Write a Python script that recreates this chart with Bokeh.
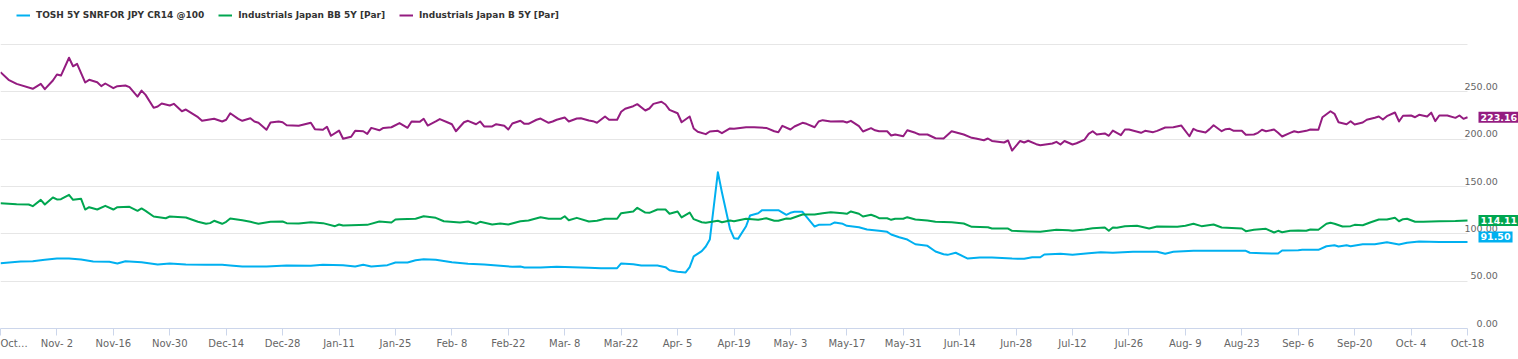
import pandas as pd
from bokeh.plotting import figure
from bokeh.models import (Range1d, FixedTicker, Legend, LegendItem, Label, ColumnDataSource,
                          BoxAnnotation)
from bokeh.embed import file_html
from bokeh.resources import INLINE

series_names = ["TOSH 5Y SNRFOR JPY CR14 @100", "Industrials Japan BB 5Y [Par]", "Industrials Japan B 5Y [Par]"]
series_colors = ["#00B0F0", "#00A650", "#941C80"]

tosh_dates = ["2020-10-19","2020-10-24","2020-10-27","2020-10-30","2020-11-02","2020-11-05","2020-11-08","2020-11-11",
              "2020-11-15","2020-11-17","2020-11-19","2020-11-23","2020-11-27","2020-11-30","2020-12-04","2020-12-09",
              "2020-12-13","2020-12-15","2020-12-18","2020-12-24","2020-12-29","2021-01-04","2021-01-07","2021-01-12",
              "2021-01-15","2021-01-17","2021-01-19","2021-01-23","2021-01-25","2021-01-28","2021-01-30","2021-02-01",
              "2021-02-04","2021-02-08","2021-02-12","2021-02-16","2021-02-20","2021-02-23","2021-02-25","2021-02-26",
              "2021-03-02","2021-03-06","2021-03-10","2021-03-14","2021-03-17","2021-03-21","2021-03-22","2021-03-25",
              "2021-03-27","2021-03-31","2021-04-02","2021-04-03","2021-04-05","2021-04-07","2021-04-08","2021-04-09",
              "2021-04-11","2021-04-12","2021-04-13","2021-04-15","2021-04-16","2021-04-18","2021-04-19","2021-04-20",
              "2021-04-22","2021-04-23","2021-04-25","2021-04-26","2021-04-30","2021-05-02","2021-05-03","2021-05-04",
              "2021-05-06","2021-05-07","2021-05-09","2021-05-10","2021-05-13","2021-05-14","2021-05-16","2021-05-17",
              "2021-05-20","2021-05-22","2021-05-25","2021-05-27","2021-05-28","2021-05-30","2021-06-01","2021-06-03",
              "2021-06-06","2021-06-08","2021-06-10","2021-06-11","2021-06-13","2021-06-16","2021-06-19","2021-06-22",
              "2021-06-27","2021-06-30","2021-07-02","2021-07-04","2021-07-05","2021-07-09","2021-07-12","2021-07-16",
              "2021-07-19","2021-07-22","2021-07-27","2021-08-02","2021-08-04","2021-08-06","2021-08-11","2021-08-18",
              "2021-08-24","2021-08-25","2021-08-28","2021-09-01","2021-09-02","2021-09-06","2021-09-07","2021-09-11",
              "2021-09-13","2021-09-15","2021-09-16","2021-09-18","2021-09-19","2021-09-22","2021-09-25","2021-09-28",
              "2021-10-01","2021-10-03","2021-10-06","2021-10-11","2021-10-18"]
tosh_values = [69.0, 70.8, 71.1, 72.6, 73.9, 73.9, 72.9, 70.8,
               70.4, 68.7, 71.1, 70.0, 67.6, 68.7, 67.6, 67.3,
               67.3, 66.5, 65.5, 65.5, 66.5, 66.2, 67.3, 66.9,
               65.5, 67.3, 65.5, 66.9, 69.7, 69.7, 72.1, 73.2,
               72.6, 70.0, 68.3, 67.6, 66.2, 65.2, 65.5, 64.4,
               64.4, 65.2, 64.8, 64.1, 63.7, 63.7, 68.7, 67.9,
               66.5, 66.5, 64.8, 61.6, 59.9, 59.2, 64.8, 76.1,
               81.7, 86.6, 94.0, 165.1, 144.0, 105.3, 95.4, 94.7,
               108.1, 119.4, 121.8, 125.0, 125.0, 120.1, 122.2, 123.3,
               123.3, 118.0, 107.7, 109.5, 109.9, 112.0, 110.6, 108.5,
               107.0, 104.6, 103.2, 102.1, 99.3, 96.4, 94.0, 89.0,
               87.3, 81.3, 78.5, 77.8, 80.0, 73.9, 75.0, 75.0,
               73.9, 73.6, 75.3, 75.3, 78.2, 78.9, 77.8, 79.5,
               80.6, 80.0, 81.0, 81.0, 78.9, 81.0, 82.1, 82.1,
               82.1, 80.0, 79.5, 79.2, 82.4, 82.7, 83.1, 83.1,
               86.9, 88.0, 86.6, 88.0, 86.9, 89.0, 89.0, 91.2,
               88.7, 90.5, 91.9, 91.5, 91.50]

bb_dates = ["2020-10-19","2020-10-23","2020-10-26","2020-10-27","2020-10-29","2020-10-30","2020-11-01","2020-11-02",
            "2020-11-03","2020-11-05","2020-11-06","2020-11-08","2020-11-09","2020-11-10","2020-11-12","2020-11-14",
            "2020-11-16","2020-11-17","2020-11-20","2020-11-22","2020-11-23","2020-11-24","2020-11-26","2020-11-29",
            "2020-11-30","2020-12-04","2020-12-07","2020-12-09","2020-12-10","2020-12-11","2020-12-13","2020-12-14",
            "2020-12-15","2020-12-18","2020-12-20","2020-12-22","2020-12-25","2020-12-28","2020-12-29","2021-01-01",
            "2021-01-04","2021-01-07","2021-01-10","2021-01-11","2021-01-12","2021-01-18","2021-01-21","2021-01-24",
            "2021-01-25","2021-01-26","2021-01-30","2021-02-01","2021-02-04","2021-02-06","2021-02-10","2021-02-12",
            "2021-02-14","2021-02-15","2021-02-18","2021-02-20","2021-02-22","2021-02-25","2021-02-27","2021-03-02",
            "2021-03-04","2021-03-07","2021-03-08","2021-03-09","2021-03-11","2021-03-14","2021-03-16","2021-03-18",
            "2021-03-21","2021-03-22","2021-03-25","2021-03-26","2021-03-28","2021-03-29","2021-03-31","2021-04-02",
            "2021-04-03","2021-04-05","2021-04-06","2021-04-08","2021-04-09","2021-04-11","2021-04-12","2021-04-15",
            "2021-04-16","2021-04-18","2021-04-19","2021-04-22","2021-04-25","2021-04-27","2021-04-29","2021-04-30",
            "2021-05-02","2021-05-03","2021-05-06","2021-05-09","2021-05-11","2021-05-13","2021-05-16","2021-05-17",
            "2021-05-18","2021-05-20","2021-05-21","2021-05-23","2021-05-24","2021-05-25","2021-05-27","2021-05-28",
            "2021-05-29","2021-05-31","2021-06-01","2021-06-03","2021-06-06","2021-06-08","2021-06-12","2021-06-15",
            "2021-06-17","2021-06-21","2021-06-22","2021-06-26","2021-06-27","2021-07-01","2021-07-04","2021-07-08",
            "2021-07-11","2021-07-12","2021-07-15","2021-07-17","2021-07-20","2021-07-21","2021-07-22","2021-07-23",
            "2021-07-25","2021-07-28","2021-07-31","2021-08-02","2021-08-07","2021-08-09","2021-08-11","2021-08-13",
            "2021-08-16","2021-08-18","2021-08-23","2021-08-24","2021-08-26","2021-08-29","2021-08-31","2021-09-01",
            "2021-09-02","2021-09-04","2021-09-06","2021-09-08","2021-09-09","2021-09-11","2021-09-13","2021-09-14",
            "2021-09-15","2021-09-17","2021-09-19","2021-09-20","2021-09-22","2021-09-24","2021-09-26","2021-09-28",
            "2021-09-30","2021-10-01","2021-10-02","2021-10-03","2021-10-05","2021-10-07","2021-10-11","2021-10-15",
            "2021-10-18"]
bb_values = [132.4, 131.3, 131.0, 129.2, 135.9, 131.0, 138.4, 136.3,
             136.6, 141.2, 135.9, 137.0, 125.7, 128.1, 125.7, 129.6,
             125.7, 128.1, 128.5, 124.3, 126.8, 124.3, 118.3, 116.5,
             118.3, 117.3, 112.7, 110.6, 111.3, 113.8, 110.6, 112.7,
             116.2, 114.4, 112.7, 110.6, 112.7, 113.0, 111.3, 110.9,
             112.3, 111.3, 108.1, 109.9, 108.8, 109.5, 113.0, 112.0,
             115.1, 115.5, 115.9, 118.6, 116.9, 113.3, 112.0, 113.0,
             110.6, 112.7, 109.9, 110.9, 109.9, 113.3, 114.1, 117.6,
             115.9, 115.9, 118.6, 114.4, 116.9, 113.0, 113.8, 115.9,
             115.9, 121.8, 123.6, 127.5, 122.5, 122.2, 125.7, 125.7,
             121.2, 123.6, 117.3, 122.5, 115.5, 112.3, 111.7, 113.8,
             112.3, 114.1, 113.3, 115.9, 114.8, 116.5, 113.8, 113.8,
             116.2, 115.9, 120.4, 120.4, 121.8, 122.9, 121.8, 121.2,
             123.6, 121.2, 118.3, 120.1, 118.6, 116.5, 116.5, 114.8,
             115.9, 115.9, 117.6, 115.1, 114.1, 112.7, 112.3, 110.9,
             107.4, 107.0, 105.6, 105.6, 103.2, 102.5, 102.1, 104.3,
             103.8, 103.2, 104.6, 105.9, 106.7, 103.2, 106.7, 106.4,
             108.1, 108.5, 105.6, 107.7, 107.4, 108.5, 110.6, 108.1,
             109.9, 106.7, 105.6, 102.8, 104.3, 105.3, 101.4, 103.2,
             101.7, 103.2, 103.5, 103.2, 104.6, 104.3, 110.6, 111.7,
             110.6, 107.7, 108.1, 109.5, 109.1, 112.3, 115.1, 115.1,
             116.9, 113.3, 115.5, 115.9, 112.7, 112.7, 113.2, 113.5,
             114.11]

b_dates = ["2020-10-19","2020-10-21","2020-10-23","2020-10-27","2020-10-29","2020-10-30","2020-11-01","2020-11-02",
           "2020-11-03","2020-11-05","2020-11-06","2020-11-07","2020-11-09","2020-11-10","2020-11-12","2020-11-13",
           "2020-11-14","2020-11-16","2020-11-17","2020-11-19","2020-11-20","2020-11-22","2020-11-23","2020-11-24",
           "2020-11-26","2020-11-27","2020-11-28","2020-11-30","2020-12-01","2020-12-03","2020-12-04","2020-12-07",
           "2020-12-08","2020-12-11","2020-12-13","2020-12-14","2020-12-15","2020-12-17","2020-12-18","2020-12-20",
           "2020-12-21","2020-12-22","2020-12-24","2020-12-25","2020-12-27","2020-12-28","2020-12-29","2021-01-01",
           "2021-01-04","2021-01-05","2021-01-07","2021-01-08","2021-01-09","2021-01-11","2021-01-12","2021-01-14",
           "2021-01-15","2021-01-17","2021-01-18","2021-01-19","2021-01-21","2021-01-22","2021-01-24","2021-01-26",
           "2021-01-28","2021-01-29","2021-01-31","2021-02-01","2021-02-02","2021-02-04","2021-02-05","2021-02-07",
           "2021-02-08","2021-02-09","2021-02-11","2021-02-12","2021-02-14","2021-02-15","2021-02-16","2021-02-18",
           "2021-02-19","2021-02-21","2021-02-22","2021-02-23","2021-02-25","2021-02-26","2021-02-27","2021-03-01",
           "2021-03-02","2021-03-04","2021-03-05","2021-03-06","2021-03-08","2021-03-09","2021-03-11","2021-03-12",
           "2021-03-14","2021-03-15","2021-03-16","2021-03-18","2021-03-19","2021-03-21","2021-03-22","2021-03-23",
           "2021-03-25","2021-03-26","2021-03-28","2021-03-29","2021-03-30","2021-04-01","2021-04-02","2021-04-03",
           "2021-04-05","2021-04-06","2021-04-08","2021-04-09","2021-04-10","2021-04-12","2021-04-13","2021-04-15",
           "2021-04-16","2021-04-18","2021-04-19","2021-04-22","2021-04-24","2021-04-27","2021-04-29","2021-04-30",
           "2021-05-01","2021-05-03","2021-05-04","2021-05-06","2021-05-07","2021-05-09","2021-05-10","2021-05-11",
           "2021-05-13","2021-05-16","2021-05-17","2021-05-18","2021-05-20","2021-05-21","2021-05-23","2021-05-24",
           "2021-05-25","2021-05-27","2021-05-28","2021-05-29","2021-05-31","2021-06-01","2021-06-03","2021-06-04",
           "2021-06-06","2021-06-08","2021-06-10","2021-06-12","2021-06-15","2021-06-17","2021-06-18","2021-06-20",
           "2021-06-21","2021-06-22","2021-06-25","2021-06-26","2021-06-27","2021-06-29","2021-06-30","2021-07-01",
           "2021-07-03","2021-07-04","2021-07-07","2021-07-08","2021-07-09","2021-07-10","2021-07-12","2021-07-13",
           "2021-07-15","2021-07-16","2021-07-17","2021-07-18","2021-07-20","2021-07-21","2021-07-22","2021-07-24",
           "2021-07-25","2021-07-26","2021-07-29","2021-07-30","2021-08-01","2021-08-02","2021-08-04","2021-08-06",
           "2021-08-08","2021-08-10","2021-08-11","2021-08-12","2021-08-14","2021-08-15","2021-08-16","2021-08-18",
           "2021-08-19","2021-08-20","2021-08-21","2021-08-23","2021-08-24","2021-08-26","2021-08-27","2021-08-28",
           "2021-08-29","2021-08-31","2021-09-01","2021-09-02","2021-09-04","2021-09-05","2021-09-06","2021-09-08",
           "2021-09-09","2021-09-11","2021-09-12","2021-09-14","2021-09-15","2021-09-16","2021-09-18","2021-09-19",
           "2021-09-20","2021-09-22","2021-09-23","2021-09-25","2021-09-26","2021-09-27","2021-09-28","2021-09-30",
           "2021-10-01","2021-10-02","2021-10-04","2021-10-05","2021-10-06","2021-10-08","2021-10-09","2021-10-10",
           "2021-10-11","2021-10-13","2021-10-15","2021-10-16","2021-10-17","2021-10-18"]
b_values = [270.8, 262.7, 258.4, 253.2, 258.4, 252.8, 262.0, 268.3,
            267.2, 286.0, 277.0, 279.6, 259.9, 262.7, 260.2, 256.0,
            258.8, 253.9, 256.0, 256.7, 254.9, 245.0, 251.3, 246.8,
            233.1, 234.5, 237.7, 235.6, 237.3, 229.5, 231.3, 223.2,
            219.4, 221.5, 218.7, 220.5, 227.4, 221.5, 219.4, 222.1,
            218.7, 217.3, 209.9, 217.6, 218.7, 217.9, 214.7, 214.1,
            217.3, 210.6, 209.9, 213.1, 203.6, 209.1, 200.4, 202.5,
            208.8, 208.4, 205.6, 211.9, 209.4, 211.9, 212.6, 217.0,
            212.0, 218.7, 218.3, 221.5, 214.4, 218.7, 221.2, 217.6,
            215.8, 208.4, 217.9, 219.4, 215.8, 218.7, 213.4, 213.4,
            215.8, 214.1, 210.2, 216.6, 219.4, 216.2, 216.2, 220.5,
            221.8, 217.3, 218.7, 220.5, 222.9, 218.7, 221.8, 222.1,
            219.7, 219.0, 217.3, 224.0, 220.5, 220.5, 228.9, 232.1,
            234.8, 237.0, 230.3, 232.4, 237.3, 239.5, 236.6, 231.0,
            227.4, 217.9, 224.0, 211.3, 207.8, 205.3, 208.1, 208.8,
            206.3, 211.3, 210.9, 212.6, 212.6, 211.9, 208.4, 207.4,
            214.1, 210.2, 213.4, 217.3, 216.2, 212.6, 218.7, 220.1,
            218.7, 219.0, 217.6, 219.4, 213.7, 208.1, 211.6, 209.4,
            208.4, 208.4, 203.9, 204.9, 203.1, 209.4, 206.7, 204.9,
            204.9, 201.0, 200.7, 208.4, 204.9, 201.4, 200.7, 198.9,
            200.7, 198.1, 196.5, 198.6, 188.0, 198.1, 196.5, 198.3,
            194.7, 193.6, 195.4, 197.2, 194.4, 198.1, 194.4, 195.7,
            199.6, 205.6, 208.4, 204.9, 206.0, 203.6, 209.1, 204.2,
            210.2, 210.2, 206.7, 208.8, 207.4, 208.8, 212.3, 212.6,
            214.4, 203.1, 210.9, 208.8, 207.0, 210.6, 214.7, 208.4,
            210.6, 210.9, 208.8, 208.8, 204.6, 204.9, 206.7, 209.9,
            208.4, 210.2, 206.7, 202.8, 206.7, 208.4, 207.4, 208.8,
            210.2, 209.9, 223.2, 229.5, 226.8, 217.9, 215.8, 219.0,
            215.5, 217.6, 220.5, 222.6, 224.0, 220.8, 224.3, 228.2,
            218.7, 224.7, 225.0, 223.2, 225.7, 224.0, 228.0, 219.0,
            225.0, 225.0, 222.5, 225.0, 221.5, 223.16]

x_tick_dates = ["2020-10-19","2020-11-02","2020-11-16","2020-11-30","2020-12-14","2020-12-28","2021-01-11",
                "2021-01-25","2021-02-08","2021-02-22","2021-03-08","2021-03-22","2021-04-05","2021-04-19",
                "2021-05-03","2021-05-17","2021-05-31","2021-06-14","2021-06-28","2021-07-12","2021-07-26",
                "2021-08-09","2021-08-23","2021-09-06","2021-09-20","2021-10-04","2021-10-18"]
x_tick_labels = ["Oct\u2026","Nov- 2","Nov-16","Nov-30","Dec-14","Dec-28","Jan-11",
                 "Jan-25","Feb- 8","Feb-22","Mar- 8","Mar-22","Apr- 5","Apr-19",
                 "May- 3","May-17","May-31","Jun-14","Jun-28","Jul-12","Jul-26",
                 "Aug- 9","Aug-23","Sep- 6","Sep-20","Oct- 4","Oct-18"]
y_ticks = [0, 50, 100, 150, 200, 250, 300]
y_tick_labels = ["0.00", "50.00", "100.00", "150.00", "200.00", "250.00", ""]

FONT = "DejaVu Sans"
FIG = "\u2007"  # figure space, same width as a digit

W, H = 1518, 359
PLOT_RIGHT = 1467   # x pixel where the time axis ends; the strip to its right holds labels and flags
PLOT_TOP = 44       # y pixel of the top grid line; the band above it holds the legend
PLOT_BOTTOM = 328   # y pixel of the time axis

x0 = pd.Timestamp(x_tick_dates[0])
x1 = pd.Timestamp(x_tick_dates[-1])
x_end = x1 + (x1 - x0) * (W - PLOT_RIGHT) / PLOT_RIGHT
y_top = y_ticks[-1] * PLOT_BOTTOM / (PLOT_BOTTOM - PLOT_TOP)

p = figure(width=W, height=H, x_axis_type="datetime", y_axis_location="right",
           output_backend="svg", toolbar_location=None, title=None,
           x_range=Range1d(x0, x_end), y_range=Range1d(y_ticks[0], y_top))
p.min_border_left = 0
p.min_border_right = 0
p.min_border_top = 0
p.min_border_bottom = H - PLOT_BOTTOM
p.outline_line_color = None
p.background_fill_color = "white"
p.border_fill_color = "white"

# grid
p.xgrid.grid_line_color = None
p.ygrid.ticker = FixedTicker(ticks=y_ticks)
p.ygrid.grid_line_color = "#e6e6e6"
p.ygrid.grid_line_width = 1
# keep the grid out of the label strip
p.add_layout(BoxAnnotation(left=x1, fill_color="white", fill_alpha=1, line_color=None, level="underlay"))

renderers = []
for dates, vals, col in [(tosh_dates, tosh_values, series_colors[0]),
                         (bb_dates, bb_values, series_colors[1]),
                         (b_dates, b_values, series_colors[2])]:
    src = ColumnDataSource(dict(x=pd.to_datetime(dates), y=vals))
    r = p.line("x", "y", source=src, line_color=col, line_width=2, line_join="round")
    renderers.append(r)

# x axis
tick_ms = [pd.Timestamp(d).value / 1e6 for d in x_tick_dates]
xa = p.xaxis[0]
xa.ticker = FixedTicker(ticks=tick_ms)
xa.major_label_overrides = {t: lab for t, lab in zip(tick_ms, x_tick_labels)}
xa.bounds = (x0, x1)
xa.axis_line_color = "#ccd6eb"
xa.major_tick_line_color = "#ccd6eb"
xa.major_tick_out = 7
xa.major_tick_in = 0
xa.minor_tick_line_color = None
xa.major_label_text_font = FONT
xa.major_label_text_font_size = "10px"
xa.major_label_text_color = "#666666"
xa.major_label_standoff = 2

# y axis: labels pulled back into the strip right of the time axis, right-aligned with
# figure spaces, sitting just above their grid lines
label_lift = 5.5
pad_right = 3
ya = p.yaxis[0]
shown = [(t, lab) for t, lab in zip(y_ticks, y_tick_labels) if lab]
width_max = max(len(lab) for _, lab in shown)
ya.ticker = FixedTicker(ticks=[t + label_lift for t, _ in shown])
ya.major_label_overrides = {t + label_lift: FIG * (width_max - len(lab)) + lab + FIG * pad_right
                            for t, lab in shown}
ya.axis_line_color = None
ya.major_tick_line_color = None
ya.major_tick_out = 0
ya.major_tick_in = 0
ya.minor_tick_line_color = None
ya.major_label_text_font = FONT
ya.major_label_text_font_size = "9.5px"
ya.major_label_text_color = "#666666"
ya.major_label_standoff = -54

# legend in the top band
legend = Legend(items=[LegendItem(label=n, renderers=[r]) for n, r in zip(series_names, renderers)],
                orientation="horizontal", location=(16, 306), margin=0, padding=0,
                spacing=14, glyph_width=14, glyph_height=14, label_height=14, label_standoff=6,
                label_text_font=FONT, label_text_font_style="bold", label_text_font_size="9px",
                label_text_color="#333333", background_fill_alpha=0, border_line_color=None)
p.add_layout(legend)

# last-value flags
flag_shift = [5, 0, 0]
for dates, vals, col, dy in [(tosh_dates, tosh_values, series_colors[0], flag_shift[0]),
                             (bb_dates, bb_values, series_colors[1], flag_shift[1]),
                             (b_dates, b_values, series_colors[2], flag_shift[2])]:
    p.add_layout(Label(x=pd.Timestamp(dates[-1]), y=vals[-1], x_offset=11, y_offset=dy,
                       text=f"{vals[-1]:.2f}", text_font=FONT, text_font_style="bold",
                       text_font_size="9.5px", text_color="white", text_baseline="middle",
                       background_fill_color=col, padding=2))

open("out.html", "w").write(file_html(p, INLINE))
